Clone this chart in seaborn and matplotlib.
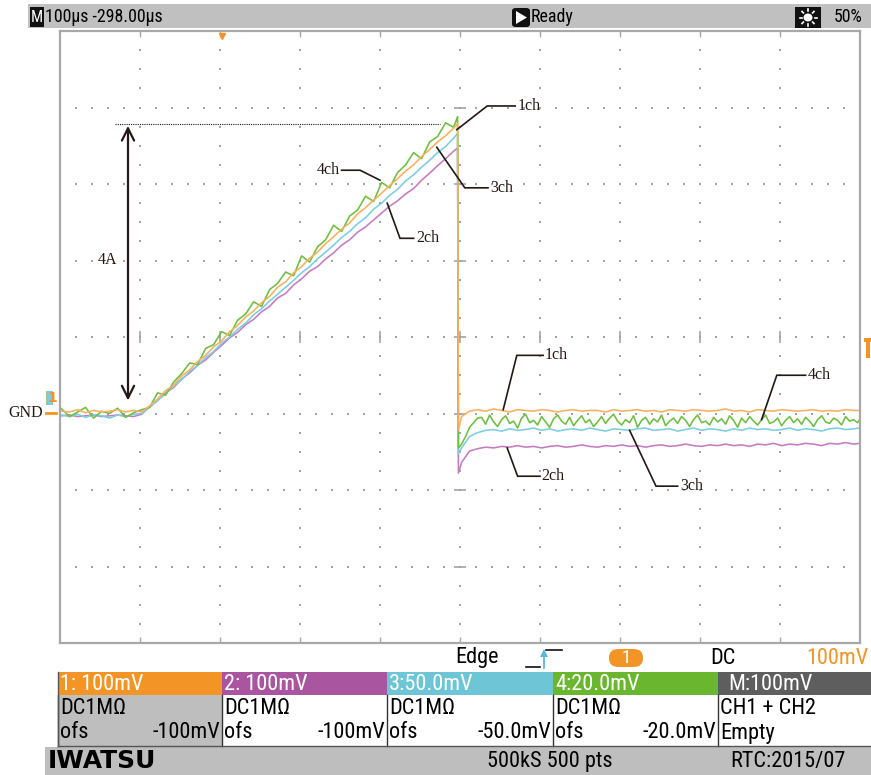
import numpy as np
import pandas as pd
import matplotlib
matplotlib.use("Agg")
import matplotlib.pyplot as plt
from matplotlib import font_manager as fm
from matplotlib.patches import Rectangle, FancyBboxPatch, Polygon, Circle
from matplotlib.lines import Line2D
import seaborn as sns

W, H = 871, 775

# ---- time base / screen: 100 us/div, trigger delay -298 us, 10 x 8 divisions ----
T_LEFT, T_RIGHT = -202, 798          # us
V_BOTTOM, V_TOP = -3.0, 5.0          # divisions relative to GND

# sample instants (us): ramp part ends at the switch-off edge, decay part starts right after it
t_rise = np.r_[np.arange(-200, 300, 10), 295]
t_fall = np.r_[296, np.arange(300, 800, 10), 798]
t_fall_fine = np.r_[296, np.arange(300, 800, 5), 798]   # ch4 is recorded with a finer step

# ---- channel traces (divisions above GND) ----
ch1_rise = [0.03, 0.02, 0.05, 0.01, 0.04, 0.02, 0.03, 0.05, 0.02, 0.04,
            0.02, 0.10, 0.19, 0.30, 0.37, 0.49, 0.57, 0.68, 0.76, 0.87,
            0.95, 1.07, 1.15, 1.26, 1.34, 1.45, 1.53, 1.65, 1.72, 1.84,
            1.92, 2.03, 2.11, 2.22, 2.31, 2.41, 2.49, 2.61, 2.69, 2.79,
            2.88, 2.98, 3.07, 3.17, 3.25, 3.36, 3.45, 3.55, 3.63, 3.73, 3.79]
ch2_rise = [-0.03, -0.02, -0.04, -0.03, -0.02, -0.04, -0.03, -0.02, -0.03, -0.04,
            -0.01, 0.09, 0.17, 0.27, 0.34, 0.45, 0.53, 0.63, 0.70, 0.80,
            0.89, 0.99, 1.06, 1.16, 1.23, 1.33, 1.40, 1.51, 1.57, 1.68,
            1.76, 1.86, 1.92, 2.02, 2.10, 2.20, 2.27, 2.37, 2.44, 2.53,
            2.62, 2.71, 2.78, 2.87, 2.94, 3.05, 3.14, 3.24, 3.33, 3.43, 3.47]
ch3_rise = [-0.02, -0.04, -0.01, -0.05, -0.02, -0.03, -0.06, -0.02, -0.04, -0.01,
            0.00, 0.08, 0.17, 0.26, 0.36, 0.44, 0.55, 0.63, 0.73, 0.81,
            0.92, 1.00, 1.10, 1.18, 1.29, 1.37, 1.47, 1.56, 1.65, 1.74,
            1.84, 1.92, 2.02, 2.11, 2.20, 2.30, 2.38, 2.48, 2.56, 2.67,
            2.75, 2.85, 2.93, 3.04, 3.12, 3.22, 3.31, 3.41, 3.49, 3.60, 3.66]
ch4_rise = [0.06, -0.04, 0.02, 0.08, -0.06, 0.03, 0.00, 0.07, -0.05, 0.01,
            0.05, 0.08, 0.27, 0.24, 0.41, 0.52, 0.66, 0.64, 0.85, 0.90,
            1.07, 1.02, 1.22, 1.30, 1.46, 1.40, 1.62, 1.70, 1.85, 1.80,
            2.06, 1.98, 2.18, 2.27, 2.46, 2.38, 2.58, 2.66, 2.84, 2.77,
            3.02, 2.95, 3.15, 3.25, 3.41, 3.33, 3.55, 3.62, 3.80, 3.74, 3.88]

ch1_fall = [-0.22, -0.04, 0.03, 0.05, 0.03, 0.06, 0.04, 0.02, 0.05, 0.04,
            0.03, 0.05, 0.04, 0.02, 0.04, 0.05, 0.03, 0.04, 0.04, 0.02,
            0.05, 0.03, 0.04, 0.05, 0.03, 0.04, 0.02, 0.05, 0.04, 0.03,
            0.05, 0.04, 0.03, 0.04, 0.06, 0.03, 0.04, 0.02, 0.05, 0.04,
            0.03, 0.05, 0.04, 0.03, 0.04, 0.05, 0.03, 0.04, 0.03, 0.05,
            0.04, 0.04]
ch2_fall = [-0.78, -0.64, -0.49, -0.46, -0.44, -0.45, -0.43, -0.44, -0.42, -0.44,
            -0.43, -0.45, -0.43, -0.42, -0.44, -0.43, -0.41, -0.43, -0.44, -0.42,
            -0.43, -0.41, -0.43, -0.42, -0.44, -0.42, -0.41, -0.43, -0.42, -0.40,
            -0.42, -0.43, -0.41, -0.42, -0.40, -0.42, -0.41, -0.43, -0.40, -0.41,
            -0.39, -0.42, -0.40, -0.41, -0.39, -0.40, -0.42, -0.39, -0.40, -0.38,
            -0.40, -0.39]
ch3_fall = [-0.52, -0.45, -0.30, -0.25, -0.22, -0.21, -0.23, -0.20, -0.22, -0.21,
            -0.19, -0.22, -0.20, -0.23, -0.21, -0.20, -0.22, -0.19, -0.21, -0.23,
            -0.20, -0.21, -0.22, -0.20, -0.19, -0.22, -0.21, -0.20, -0.23, -0.21,
            -0.19, -0.22, -0.20, -0.21, -0.23, -0.20, -0.22, -0.19, -0.21, -0.20,
            -0.22, -0.21, -0.19, -0.22, -0.20, -0.21, -0.23, -0.20, -0.19, -0.21,
            -0.20, -0.19]
ch4_fall = [-0.45, -0.40, -0.30, -0.18, -0.12, -0.06,
            -0.05, -0.14, -0.02, -0.11, -0.17, -0.08, -0.03, -0.13, -0.10, -0.19,
            -0.06, -0.01, -0.12, -0.09, -0.15, -0.04, -0.11, -0.18, -0.07, -0.02,
            -0.10, -0.14, -0.05, -0.16, -0.09, -0.03, -0.12, -0.08, -0.17, -0.11,
            -0.04, -0.13, -0.06, -0.01, -0.10, -0.15, -0.08, -0.12, -0.03, -0.18,
            -0.09, -0.05, -0.14, -0.07, -0.11, -0.02, -0.16, -0.10, -0.06, -0.13,
            -0.04, -0.09, -0.17, -0.08, -0.02, -0.12, -0.10, -0.15, -0.05, -0.11,
            -0.07, -0.14, -0.03, -0.09, -0.18, -0.06, -0.12, -0.04, -0.10, -0.15,
            -0.08, -0.02, -0.13, -0.11, -0.06, -0.16, -0.09, -0.04, -0.12, -0.07,
            -0.14, -0.05, -0.10, -0.17, -0.08, -0.03, -0.11, -0.13, -0.06, -0.09,
            -0.15, -0.04, -0.10, -0.08, -0.12, -0.07]

channels = ["2ch", "3ch", "4ch", "1ch"]          # drawing order (1ch on top)
trace_colors = {"1ch": "#F7B15E", "2ch": "#C67BC1", "3ch": "#7CCDE2", "4ch": "#6DBE3F"}
traces = {"1ch": (ch1_rise, ch1_fall, t_fall), "2ch": (ch2_rise, ch2_fall, t_fall),
          "3ch": (ch3_rise, ch3_fall, t_fall), "4ch": (ch4_rise, ch4_fall, t_fall_fine)}

# panel captions
panel_titles = ["1: 100mV", "2: 100mV", "3:50.0mV", "4:20.0mV", "M:100mV"]
panel_line2 = ["DC1M\u03a9", "DC1M\u03a9", "DC1M\u03a9", "DC1M\u03a9", "CH1 + CH2"]
panel_offsets = ["-100mV", "-100mV", "-50.0mV", "-20.0mV", ""]
panel_colors = ["#F39427", "#A9559F", "#6EC5D6", "#6AB62E", "#5E5E5E"]

frames = []
for ch in channels:
    r, f, tf = traces[ch]
    assert len(r) == len(t_rise) and len(f) == len(tf), ch
    frames.append(pd.DataFrame({"t": np.r_[t_rise, tf], "v": np.r_[r, f], "ch": ch}))
df = pd.concat(frames, ignore_index=True)

# ---- fonts ----
names = {f.name for f in fm.fontManager.ttflist}
def pick(*cands):
    for c in cands:
        if c in names:
            return c
    return "DejaVu Sans"
NARROW = pick("Liberation Sans Narrow", "Roboto Condensed", "DejaVu Sans Condensed", "Liberation Sans")
SERIF = pick("Liberation Serif", "DejaVu Serif")

fig = plt.figure(figsize=(W / 100, H / 100), dpi=100)
fig.patch.set_facecolor("white")
renderer = fig.canvas.get_renderer()

def fx(x):
    return x / W

def fy(y):
    return 1 - y / H

def box(x0, y0, x1, y1, color, z=0):
    fig.add_artist(Rectangle((fx(x0), fy(y1)), (x1 - x0) / W, (y1 - y0) / H,
                             transform=fig.transFigure, facecolor=color,
                             edgecolor="none", zorder=z))

def hline(x0, x1, y, color="#222222", lw=1.0, z=3):
    fig.add_artist(Line2D([fx(x0), fx(x1)], [fy(y), fy(y)], transform=fig.transFigure,
                          color=color, lw=lw, zorder=z))

def vline(x, y0, y1, color="#222222", lw=1.0, z=3):
    fig.add_artist(Line2D([fx(x), fx(x)], [fy(y0), fy(y1)], transform=fig.transFigure,
                          color=color, lw=lw, zorder=z))

def size_for(s, width_px, family, weight="normal"):
    t = fig.text(0, 0, s, fontsize=20, family=family, weight=weight)
    w = t.get_window_extent(renderer).width
    t.remove()
    return 20 * width_px / w

def ftext(x, y, s, size, color="black", family=None, ha="left", weight="normal", z=5):
    fig.text(fx(x), fy(y), s, fontsize=size, color=color, family=family or NARROW,
             ha=ha, va="center", weight=weight, zorder=z)

S_TOP = min(size_for("100\u00b5s -298.00\u00b5s", 118, NARROW), 16.5)
S_PAN = min(size_for("1: 100mV", 100, NARROW), 16.0)
S_LAB = min(size_for("1ch", 23, SERIF), 12)

# ---- scope screen ----
ax = fig.add_axes([fx(60), fy(643), 800 / W, 612 / H])
ax.set_xlim(T_LEFT, T_RIGHT)
ax.set_ylim(V_BOTTOM, V_TOP)
ax.set_facecolor("white")
grid_c = "#A4A4A4"
for sp in ax.spines.values():
    sp.set_color("#A8A8A8")
    sp.set_linewidth(1.6)
major_t = np.arange(T_LEFT, T_RIGHT + 1, 100)
ax.set_xticks(major_t[1:-1])
ax.set_yticks([])
ax.tick_params(axis="x", direction="in", length=4, width=1, color="#A8A8A8",
               top=True, bottom=True, labelbottom=False, labeltop=False)

# dotted graticule
rows = np.arange(V_BOTTOM, V_TOP + 0.01, 1.0)
gx, gy = np.meshgrid(np.arange(T_LEFT, T_RIGHT + 0.1, 20), rows)
ax.scatter(gx.ravel(), gy.ravel(), s=1.8, c=grid_c, marker="s", lw=0, zorder=0)
vx, vy = np.meshgrid(major_t, np.arange(V_BOTTOM, V_TOP + 0.01, 0.25))
ax.scatter(vx.ravel(), vy.ravel(), s=1.8, c=grid_c, marker="s", lw=0, zorder=0)
# centre cross ticks
t_mid = (T_LEFT + T_RIGHT) / 2
v_mid = (V_BOTTOM + V_TOP) / 2
ax.plot(np.full(len(rows), t_mid), rows, ls="none", marker="_", ms=8, mew=1.2, color=grid_c, zorder=0)
ax.plot(major_t, np.full(len(major_t), v_mid), ls="none", marker="|", ms=8, mew=1.2, color=grid_c, zorder=0)

sns.lineplot(data=df, x="t", y="v", hue="ch", hue_order=channels, palette=trace_colors,
             estimator=None, sort=False, lw=1.15, legend=False, ax=ax, zorder=2)
ax.set_xlabel("")
ax.set_ylabel("")

# trigger position marker
ax.plot([0], [4.93], marker="v", ms=5, color="#F39427", clip_on=False, zorder=4)

# ---- annotations ----
ink = "#231815"
ax.plot([-133, 273], [3.78, 3.78], color=ink, lw=0.8, ls=(0, (1, 1)), zorder=5)
ax.annotate("", xy=(-117, 3.76), xytext=(-117, 0.17),
            arrowprops=dict(arrowstyle="<->", color=ink, lw=1.6, mutation_scale=22,
                            shrinkA=0, shrinkB=0), zorder=5)
ax.text(-142, 2.0, "4A", family=SERIF, fontsize=S_LAB, ha="center", va="center", color=ink)

leaders = [
    # label, point on trace, elbow, end of shelf, text x
    ("1ch", (294, 3.71), (332, 4.02), (367, 4.02), 370),
    ("3ch", (269, 3.48), (304, 2.95), (333, 2.95), 336),
    ("4ch", (198, 3.05), (173, 3.18), (150, 3.18), 148),
    ("2ch", (207, 2.75), (223, 2.29), (240, 2.29), 243),
    ("1ch", (352, 0.05), (369, 0.76), (402, 0.76), 404),
    ("2ch", (357, -0.45), (370, -0.82), (398, -0.82), 400),
    ("3ch", (510, -0.22), (543, -0.95), (570, -0.95), 573),
    ("4ch", (675, -0.08), (694, 0.50), (730, 0.50), 733),
]
for lab, p0, p1, p2, tx in leaders:
    ax.plot([p0[0], p1[0], p2[0]], [p0[1], p1[1], p2[1]], color=ink, lw=1.2,
            solid_joinstyle="miter", zorder=5, clip_on=False)
    ha = "right" if tx < p2[0] else "left"
    ax.text(tx, p2[1], lab, family=SERIF, fontsize=S_LAB, ha=ha, va="center", color=ink, zorder=6)

# ---- left / right screen markers ----
ftext(8, 413, "GND", S_LAB, color=ink, family=SERIF)
hline(46, 56, 413, color="#F39427", lw=2)
box(46, 391, 52, 405, "#9BC98A", z=2)
box(48, 391, 53, 405, "#7CCDE2", z=2)
ftext(52, 398, "1", 10, color="#F39427", weight="bold", family="DejaVu Sans", ha="center")
# trigger level flag at the right screen edge
box(864, 338, W, 342, "#F39427", z=2)
box(866, 338, 869.5, 358, "#F39427", z=2)

# ---- top status bar ----
box(28, 4, W, 28, "#C0C0C0")
box(30, 7, 44, 27, "#111111", z=1)
ftext(37, 17.5, "M", S_TOP * 0.9, color="white", ha="center")
ftext(45, 17.5, "100\u00b5s -298.00\u00b5s", S_TOP)
fig.add_artist(FancyBboxPatch((fx(512), fy(27)), 18 / W, 19 / H, boxstyle="round,pad=0,rounding_size=0.004",
                              transform=fig.transFigure, facecolor="#111111", edgecolor="none", zorder=1))
fig.add_artist(Polygon([(fx(516), fy(11)), (fx(516), fy(24)), (fx(527), fy(17.5))], closed=True,
                       transform=fig.transFigure, facecolor="white", edgecolor="none", zorder=2))
ftext(531, 17.5, "Ready", S_TOP)
box(795, 7, 821, 28, "#111111", z=1)
fig.add_artist(Circle((fx(808), fy(17.5)), 4.5 / W, transform=fig.transFigure,
                      facecolor="white", edgecolor="none", zorder=2))
for a in np.deg2rad(np.arange(0, 360, 45)):
    fig.add_artist(Line2D([fx(808 + 6.5 * np.cos(a)), fx(808 + 8.5 * np.cos(a))],
                          [fy(17.5 + 6.5 * np.sin(a)), fy(17.5 + 8.5 * np.sin(a))],
                          transform=fig.transFigure, color="white", lw=1.2, zorder=2))
ftext(834, 17.5, "50%", S_TOP)

# ---- trigger status line ----
ftext(455, 658, "Edge", S_PAN)
hline(526, 540, 667, color="#111111", lw=1.2)
vline(544, 668, 655, color="#5BB9D8", lw=1.3)
fig.add_artist(Polygon([(fx(540), fy(657)), (fx(548), fy(657)), (fx(544), fy(649))], closed=True,
                       transform=fig.transFigure, facecolor="#5BB9D8", edgecolor="none", zorder=3))
hline(546, 562, 650, color="#111111", lw=1.2)
fig.add_artist(FancyBboxPatch((fx(609), fy(667)), 34 / W, 18 / H,
                              boxstyle="round,pad=0,rounding_size=0.011",
                              transform=fig.transFigure, facecolor="#F39427", edgecolor="none", zorder=2))
ftext(626, 658, "1", S_PAN * 0.85, color="white", ha="center")
ftext(710, 658, "DC", S_PAN)
ftext(869, 658, "100mV", S_PAN, color="#F39427", ha="right")

# ---- channel panels ----
edges = [58, 222, 387, 553, 718, W + 2]
for i in range(5):
    x0, x1 = edges[i], edges[i + 1]
    box(x0, 672, x1, 695, panel_colors[i], z=1)
    box(x0, 695, x1, 746, "#BEBEBE" if i == 0 else "white", z=1)
    tx = x0 + 2 if i < 4 else x0 + 10
    ftext(tx, 684, panel_titles[i], S_PAN, color="white")
    ftext(x0 + 2, 708, panel_line2[i], S_PAN)
    if panel_offsets[i]:
        ftext(x0 + 2, 733, "ofs", S_PAN)
        ftext(x1 - 2, 733, panel_offsets[i], S_PAN, ha="right")
    else:
        ftext(x0 + 2, 733, "Empty", S_PAN)
for x in edges[:5]:
    vline(x, 695, 746, color="#333333", lw=1.0)
vline(58, 672, 746, color="#555555", lw=1.0)
hline(58, W, 746, color="#555555", lw=1.0)

# ---- bottom bar ----
box(45, 747, W, H, "#BEBEBE")
ftext(48, 761, "IWATSU", min(size_for("IWATSU", 124, "DejaVu Sans", "heavy"), 18),
      family="DejaVu Sans", weight="heavy")
ftext(550, 761, "500kS 500 pts", S_PAN, ha="center")
ftext(730, 761, "RTC:2015/07", S_PAN)

fig.savefig("out.png", dpi=100, facecolor="white")
